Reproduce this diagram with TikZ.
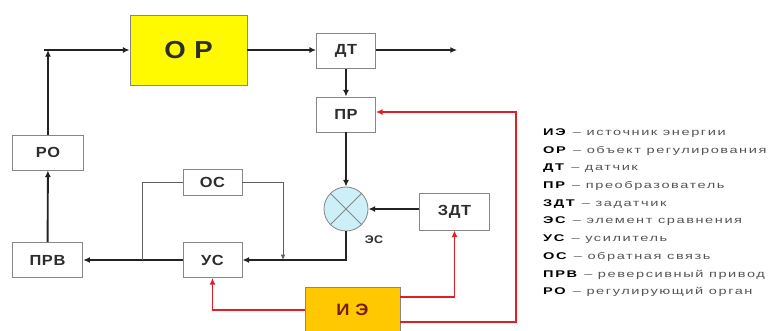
\documentclass[tikz,border=0pt]{standalone}
\usepackage{fontspec}
\setmainfont{Liberation Sans}
\newfontfamily\boxfont[FakeStretch=1.12,LetterSpace=4]{Liberation Sans}
\newfontfamily\legfont[FakeStretch=1.5,LetterSpace=16]{Liberation Sans}
\usepackage{xcolor}
\usetikzlibrary{arrows.meta,positioning,calc}
\definecolor{rgedge}{RGB}{135,135,135}
\definecolor{rgline}{RGB}{35,35,35}
\definecolor{rgthin}{RGB}{95,95,95}
\definecolor{rgred}{RGB}{225,30,40}
\definecolor{rgor}{RGB}{255,250,0}
\definecolor{rgie}{RGB}{255,200,0}
\definecolor{rgiet}{RGB}{120,30,0}
\definecolor{rges}{RGB}{205,240,248}
\definecolor{rgtext}{RGB}{45,45,45}
\definecolor{rgleg}{RGB}{85,85,85}
\tikzset{
  blk/.style={
    draw=rgedge, line width=0.7pt, fill=white, inner sep=0pt,
    font=\boxfont\bfseries\fontsize{12.5}{14}\selectfont, text=rgtext,
    minimum width=1.77cm, minimum height=1.05cm
  },
  wide/.style={blk, minimum width=2.12cm},
  arr/.style={-{Latex[length=2mm,width=1.8mm]}, draw=rgline, line width=1.6pt},
  thin/.style={draw=rgthin, line width=0.8pt},
  tarr/.style={thin, -{Latex[length=1.6mm,width=1.4mm]}},
  rarr/.style={-{Latex[length=2mm,width=1.8mm]}, draw=rgred, line width=1.6pt},
  leg/.style={anchor=west, inner sep=0pt, font=\legfont\fontsize{8.3}{10}\selectfont}
}
\begin{document}
\begin{tikzpicture}[x=0.03cm,y=-0.03cm]
  \useasboundingbox[fill=white] (0,0) rectangle (768,330);
  % blocks of the loop
  \node[blk, fill=rgor, minimum width=3.51cm, minimum height=2.1cm,
        font=\boxfont\bfseries\fontsize{21}{24}\selectfont] (or) at (188.5,50) {О Р};
  \node[blk] (dt) at (346,51) {ДТ};
  \node[blk] (pr) at (346,114.5) {ПР};
  \node[wide] (ro) at (48,152.5) {РО};
  \node[wide] (prv) at (47.5,260) {ПРВ};
  \node[blk] (us) at (212.5,260) {УС};
  \node[blk, minimum height=0.78cm] (os) at (212.5,182) {ОС};
  \node[wide, minimum height=1.11cm] (zdt) at (454.5,211.5) {ЗДТ};
  \node[blk, fill=rgie, text=rgiet, minimum width=2.85cm, minimum height=1.38cm,
        font=\boxfont\bfseries\fontsize{14}{16}\selectfont] (ie) at (352.5,310) {И Э};
  \node[circle, draw=rgedge, fill=rges, line width=0.7pt, minimum size=1.32cm,
        inner sep=0pt] (es) at (346,209) {};
  \draw[rgedge, line width=0.7pt] (es.45) -- (es.225) (es.135) -- (es.315);
  \node[font=\boxfont\bfseries\fontsize{9.5}{11}\selectfont, text=rgtext] (eslbl) at (374,240) {ЭС};
  % main flow
  \coordinate (in) at (44,50);
  \coordinate (out) at (457,50);
  \draw[arr] (in) -- (or.west);
  \draw[arr] (ro.north) -- (ro.north |- in);
  \draw[arr] (or.east) -- (dt.west |- or.east);
  \draw[arr] (dt.east |- out) -- (out);
  \draw[arr] (dt) -- (pr);
  \draw[arr] (pr) -- (es);
  \draw[arr] (zdt.west |- es) -- (es.east);
  \draw[arr] (es.south) |- (us.east);
  \draw[arr] (us) -- (prv);
  \draw[arr] (prv) -- (ro);
  % feedback round the amplifier
  \coordinate (osl) at (142,260);
  \coordinate (osr) at (283,260);
  \draw[thin] (osl) |- (os.west);
  \draw[tarr] (os.east) -| (osr);
  % energy supply
  \draw[rarr] (ie.west) -| (us.south);
  \draw[rarr] ($(ie.east)+(0,-13)$) -| (zdt.south);
  \draw[rarr] ($(ie.east)+(0,12)$) -| (516,112) -- (pr.east |- 0,112);
  % legend
  \foreach \ab/\txt [count=\i] in {ИЭ/источник энергии, ОР/объект регулирования,
      ДТ/датчик, ПР/преобразователь, ЗДТ/задатчик, ЭС/элемент сравнения,
      УС/усилитель, ОС/обратная связь, ПРВ/реверсивный привод, РО/регулирующий орган}
    \node[leg] (leg\i) at (543,{133+17.7*(\i-1)}) {\textbf{\ab}\ \textcolor{rgleg}{– \txt}};
\end{tikzpicture}
\end{document}
